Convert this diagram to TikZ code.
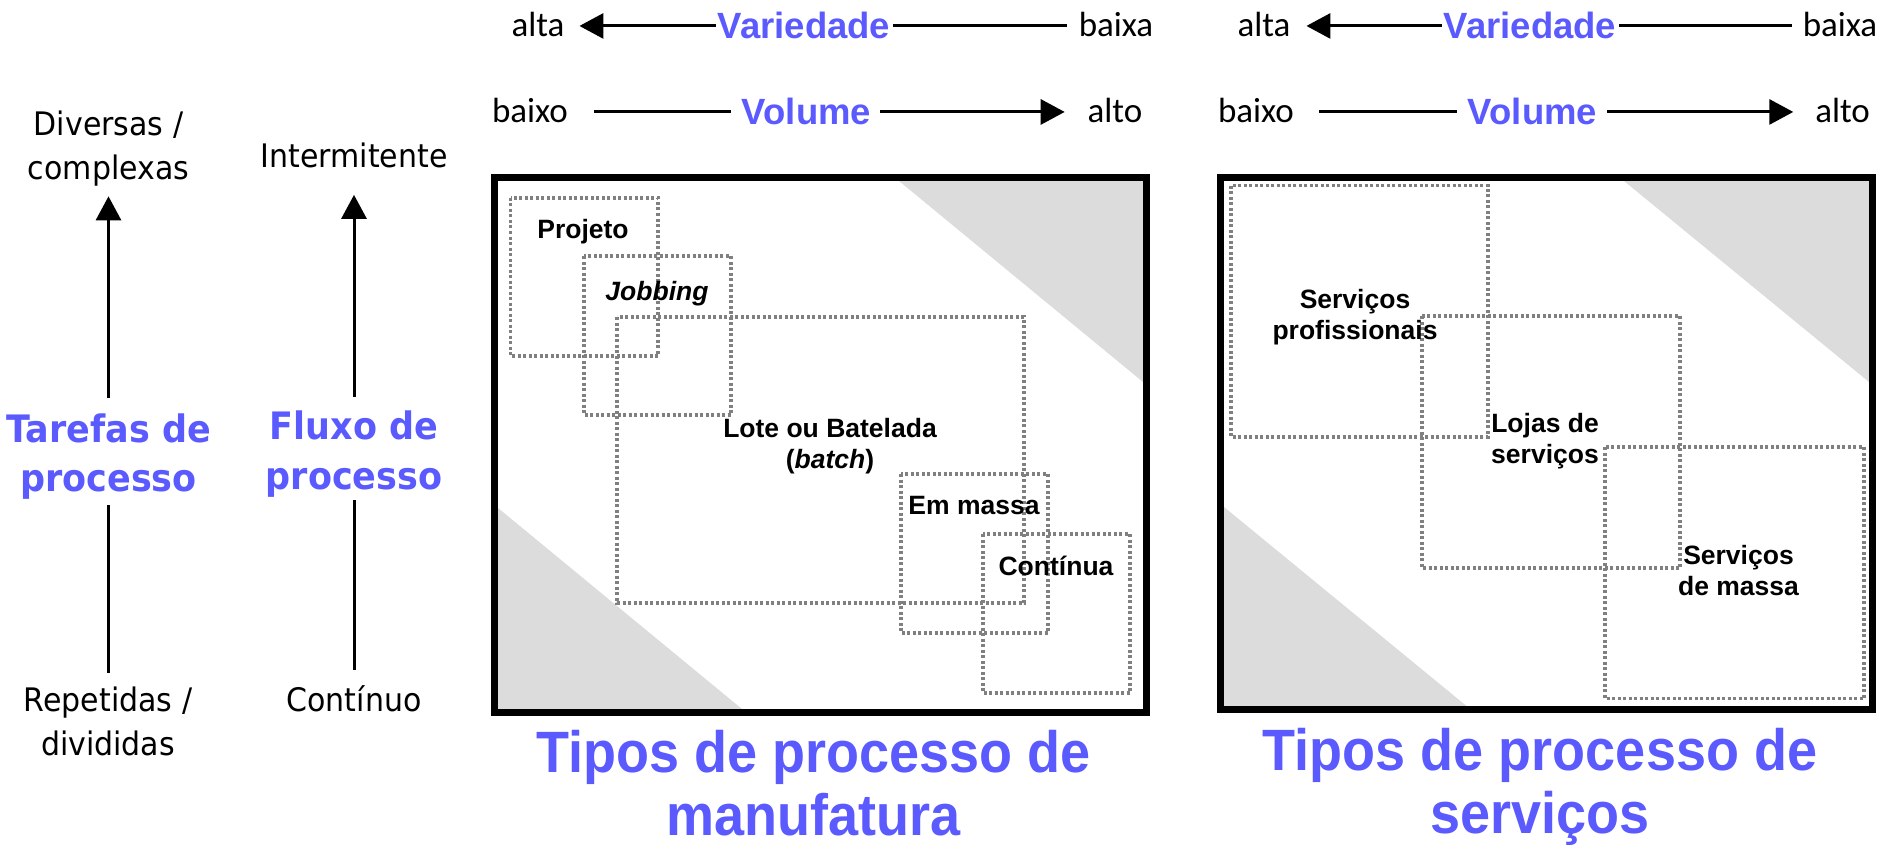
\documentclass[tikz,border=0pt]{standalone}
\usepackage{fontspec}
\usepackage{graphicx}
\setmainfont{Liberation Sans}
\newfontfamily\carl{Carlito}
\newfontfamily\dvs{DejaVu Sans}
\usetikzlibrary{arrows.meta}
\definecolor{azul}{RGB}{90,90,255}
\definecolor{trigray}{RGB}{220,220,220}
\definecolor{dotc}{RGB}{128,128,128}
\newcommand\vst[1]{\scalebox{1}[1.08]{#1}}
\begin{document}
\begin{tikzpicture}[x=1pt,y=-1pt,
  every node/.style={inner sep=0pt, outer sep=0pt},
  lbl/.style={font=\carl\fontsize{35}{42}\selectfont, anchor=base},
  axt/.style={font=\bfseries\fontsize{36.5}{44}\selectfont, text=azul, anchor=base},
  side/.style={font=\dvs\fontsize{30}{44}\selectfont, anchor=base, align=center},
  sidet/.style={font=\dvs\bfseries\fontsize{35}{49.5}\selectfont, text=azul, anchor=base, align=center},
  boxl/.style={font=\bfseries\fontsize{26.5}{31}\selectfont, anchor=base, align=center},
  ttl/.style={font=\bfseries\fontsize{54}{63}\selectfont, text=azul, anchor=base, align=center},
  ln/.style={line width=3pt},
  arr/.style={line width=3pt, -{Triangle[width=25pt,length=24pt]}},
  dotbox/.style={draw=dotc, line width=3.5pt, dash pattern=on 3pt off 2.5pt},
  outerframe/.style={draw=black, line width=7pt},
  trifill/.style={fill=trigray}
]
\useasboundingbox (0,0) rectangle (1879,845);

% ---------- left columns (base = last line) ----------
\node[side] (div) at (108.5,179.6) {\vst{Diversas /}\\\vst{complexas}};
\node[sidet] (tar) at (108.5,491.7) {\vst{Tarefas de}\\\vst{processo}};
\node[side] (rep) at (108,755) {\vst{Repetidas /}\\\vst{divididas}};
\draw[arr, shorten <=15pt, shorten >=10pt] (tar.north) -- (tar.north |- div.south);
\draw[ln, shorten <=13pt, shorten >=5pt] (rep.north) -- (rep.north |- tar.south);

\node[side] (intm) at (354,167.4) {\vst{Intermitente}};
\node[sidet] (flu) at (354,489) {\vst{Fluxo de}\\\vst{processo}};
\node[side] (con) at (354,711.5) {\vst{Contínuo}};
\draw[arr, shorten <=14pt, shorten >=27pt] (flu.north) -- (flu.north |- intm.south);
\draw[ln, shorten <=16pt, shorten >=3.5pt] (con.north) -- (con.north |- flu.south);

% ---------- top axes, manufacturing ----------
\node[lbl] (altaA) at (538,37) {alta};
\node[axt] (varA) at (804,39) {Variedade};
\node[lbl] (baixaA) at (1116,37) {baixa};
\draw[arr, shorten <=2pt, shorten >=15pt] (varA.west) -- (varA.west -| altaA.east);
\draw[ln, shorten <=3pt, shorten >=12pt] (varA.east) -- (varA.east -| baixaA.west);
\node[lbl] (baixoA) at (530,123) {baixo};
\node[axt] (volA) at (806.5,125) {Volume};
\node[lbl] (altoA) at (1115,123) {alto};
\draw[ln, shorten <=11pt, shorten >=26pt] (volA.west) -- (volA.west -| baixoA.east);
\draw[arr, shorten <=9pt, shorten >=23pt] (volA.east) -- (volA.east -| altoA.west);

% ---------- top axes, services ----------
\node[lbl] (altaB) at (1264,37) {alta};
\node[axt] (varB) at (1530,39) {Variedade};
\node[lbl] (baixaB) at (1840,37) {baixa};
\draw[arr, shorten <=2pt, shorten >=16pt] (varB.west) -- (varB.west -| altaB.east);
\draw[ln, shorten <=3pt, shorten >=11pt] (varB.east) -- (varB.east -| baixaB.west);
\node[lbl] (baixoB) at (1256,123) {baixo};
\node[axt] (volB) at (1532.5,125) {Volume};
\node[lbl] (altoB) at (1842.6,123) {alto};
\draw[ln, shorten <=11pt, shorten >=25pt] (volB.west) -- (volB.west -| baixoB.east);
\draw[arr, shorten <=10pt, shorten >=22pt] (volB.east) -- (volB.east -| altoB.west);

% ---------- manufacturing box ----------
\fill[trifill] (899,181) -- (1143,181) -- (1143,382) -- cycle;
\fill[trifill] (498,508) -- (742,709) -- (498,709) -- cycle;
\draw[dotbox] (510.5,198) rectangle (658,356);
\draw[dotbox] (584,256) rectangle (731,415);
\draw[dotbox] (617,317) rectangle (1024,603);
\draw[dotbox] (901,474) rectangle (1048,633);
\draw[dotbox] (983,534) rectangle (1130,693);
\draw[outerframe] (494.5,177.5) rectangle (1146.5,712.5);
\node[boxl] (proj) at (583,238) {Projeto};
\node[boxl] (jobb) at (657,300) {\itshape Jobbing};
\node[boxl] (lote) at (830,468.6) {Lote ou Batelada\\(\textit{batch})};
\node[boxl] (emm) at (974,514) {Em massa};
\node[boxl] (cont) at (1056,575.6) {Contínua};

% ---------- services box ----------
\fill[trifill] (1624,181) -- (1869,181) -- (1869,382) -- cycle;
\fill[trifill] (1224,507) -- (1466.5,706) -- (1224,706) -- cycle;
\draw[dotbox] (1231,185.6) rectangle (1488,437);
\draw[dotbox] (1422,316) rectangle (1680,568);
\draw[dotbox] (1605,447) rectangle (1864,698.5);
\draw[outerframe] (1220.5,177.5) rectangle (1872.5,709.5);
\node[boxl] (sprof) at (1355,339) {Serviços\\profissionais};
\node[boxl] (lojas) at (1545,463.4) {Lojas de\\serviços};
\node[boxl] (smas) at (1738.5,595.4) {Serviços\\de massa};

% ---------- titles ----------
\node[ttl] (tman) at (813.7,835) {\vst{Tipos de processo de}\\\vst{manufatura}};
\node[ttl] (tserv) at (1540,833) {\vst{Tipos de processo de}\\\vst{serviços}};
\end{tikzpicture}
\end{document}
